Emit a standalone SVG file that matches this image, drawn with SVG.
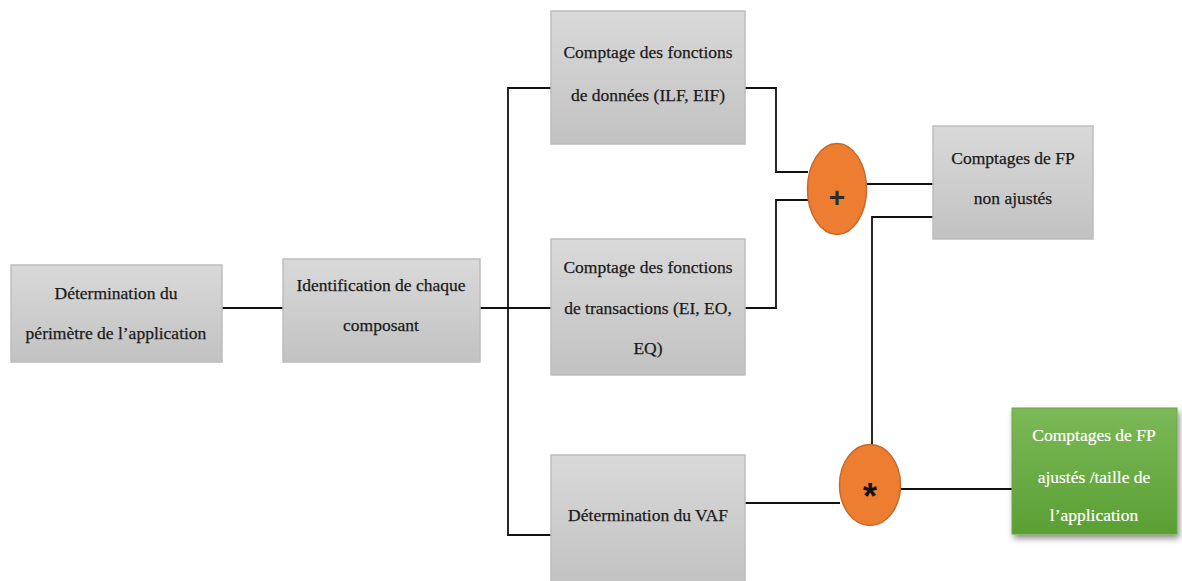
<svg xmlns="http://www.w3.org/2000/svg" width="1182" height="581" viewBox="0 0 1182 581">
  <defs>
    <linearGradient id="grayFill" x1="0" y1="0" x2="0" y2="1">
      <stop offset="0" stop-color="#d9d9d9"/>
      <stop offset="1" stop-color="#c2c2c2"/>
    </linearGradient>
    <linearGradient id="greenFill" x1="0" y1="0" x2="0" y2="1">
      <stop offset="0" stop-color="#7cb958"/>
      <stop offset="1" stop-color="#5a9f33"/>
    </linearGradient>
    <filter id="shadow" x="-10%" y="-10%" width="130%" height="130%">
      <feGaussianBlur in="SourceAlpha" stdDeviation="3"/>
      <feOffset dx="2" dy="4" result="b"/>
      <feComponentTransfer><feFuncA type="linear" slope="0.45"/></feComponentTransfer>
      <feMerge><feMergeNode/><feMergeNode in="SourceGraphic"/></feMerge>
    </filter>
  </defs>
  <style>
    .box { fill: url(#grayFill); stroke: #bdbdbd; stroke-width: 1.5; }
    .green { fill: url(#greenFill); stroke: #6aa845; stroke-width: 1; }
    .op { fill: #ed7d31; stroke: #c8692a; stroke-width: 1.5; }
    .lbl { font-family: "Liberation Serif", serif; font-size: 17.5px; fill: #1a1a1a; stroke: #1a1a1a; stroke-width: 0.25; text-anchor: middle; }
    .wlbl { font-family: "Liberation Serif", serif; font-size: 17.5px; fill: #ffffff; stroke: #ffffff; stroke-width: 0.2; text-anchor: middle; }
    .plus { font-family: "Liberation Sans", sans-serif; font-size: 28px; fill: #2b2b2b; text-anchor: middle; font-weight: bold; }
    .star { font-family: "Liberation Sans", sans-serif; font-size: 36px; fill: #111; text-anchor: middle; font-weight: bold; }
    .wire { fill: none; stroke: #111; stroke-width: 1.8; }
  </style>

  <rect width="1182" height="581" fill="#ffffff"/>

  <!-- connectors -->
  <g id="connectors">
    <line class="wire" x1="222" y1="308" x2="283" y2="308"/>
    <line class="wire" x1="480" y1="308" x2="551" y2="308"/>
    <polyline class="wire" points="551,88 508,88 508,535 551,535"/>
    <polyline class="wire" points="745,88 776,88 776,172 808,172"/>
    <polyline class="wire" points="745,308 776,308 776,200 808,200"/>
    <line class="wire" x1="866" y1="184" x2="933" y2="184"/>
    <polyline class="wire" points="933,217 872,217 872,454"/>
    <line class="wire" x1="745" y1="503" x2="840" y2="503"/>
    <line class="wire" x1="901" y1="489" x2="1012" y2="489"/>
  </g>

  <g id="perimetre">
    <rect class="box" x="11" y="265" width="211" height="97"/>
    <text class="lbl" x="116" y="299">Détermination du</text>
    <text class="lbl" x="116" y="339">périmètre de l’application</text>
  </g>

  <g id="identification">
    <rect class="box" x="283" y="259" width="197" height="103"/>
    <text class="lbl" x="381" y="291">Identification de chaque</text>
    <text class="lbl" x="381" y="331">composant</text>
  </g>

  <g id="donnees">
    <rect class="box" x="551" y="11" width="194" height="133"/>
    <text class="lbl" x="648" y="58">Comptage des fonctions</text>
    <text class="lbl" x="648" y="101">de données (ILF, EIF)</text>
  </g>

  <g id="transactions">
    <rect class="box" x="551" y="239" width="194" height="136"/>
    <text class="lbl" x="648" y="273">Comptage des fonctions</text>
    <text class="lbl" x="648" y="314">de transactions (EI, EO,</text>
    <text class="lbl" x="648" y="354">EQ)</text>
  </g>

  <g id="vaf">
    <rect class="box" x="551" y="455" width="194" height="128"/>
    <text class="lbl" x="648" y="521">Détermination du VAF</text>
  </g>

  <g id="somme">
    <ellipse class="op" cx="837" cy="189" rx="29.5" ry="45.5"/>
    <text class="plus" x="837" y="207">+</text>
  </g>

  <g id="non-ajustes">
    <rect class="box" x="933" y="126" width="160" height="113"/>
    <text class="lbl" x="1013" y="164">Comptages de FP</text>
    <text class="lbl" x="1013" y="204">non ajustés</text>
  </g>

  <g id="produit">
    <ellipse class="op" cx="870" cy="485" rx="30.5" ry="40.5"/>
    <text class="star" x="870" y="509">*</text>
  </g>

  <g id="ajustes">
    <rect class="green" x="1012" y="408" width="165" height="126" filter="url(#shadow)"/>
    <text class="wlbl" x="1094" y="441">Comptages de FP</text>
    <text class="wlbl" x="1094" y="483">ajustés /taille de</text>
    <text class="wlbl" x="1094" y="521">l’application</text>
  </g>
</svg>
